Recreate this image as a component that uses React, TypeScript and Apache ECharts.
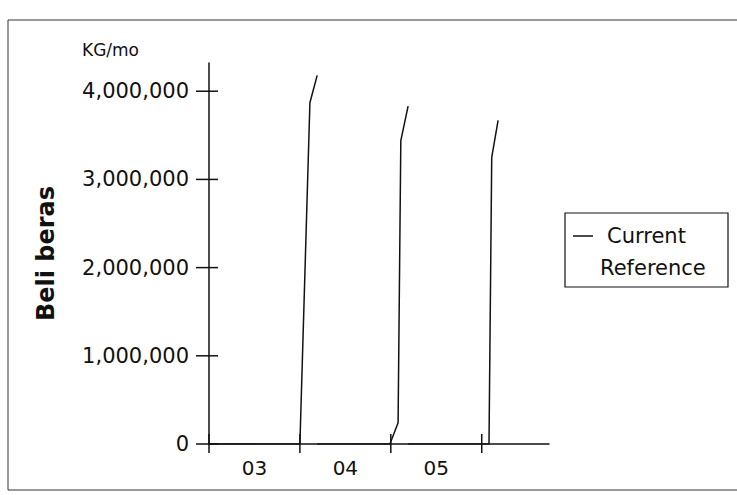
import React, { useEffect, useRef } from "react";
import * as echarts from "echarts";

// x in years after start (tick 1 = boundary 03/04, 2 = 04/05, 3 = 05/06)
const xTickValues = [0, 1, 2, 3];
const xLabelValues = [0.5, 1.5, 2.5];
const xTickLabels = ["03", "04", "05"];
const yTickValues = [0, 1000000, 2000000, 3000000, 4000000];

const spikeX = [
  [1.0, 1.11, 1.19],
  [1.99, 2.08, 2.11, 2.19],
  [3.08, 3.11, 3.18],
];
const spikeY = [
  [0, 3870000, 4180000],
  [0, 240000, 3440000, 3830000],
  [0, 3250000, 3670000],
];
const baseStartX = [0, 1.19, 2.19];

const FONT = "DejaVu Sans";

export default function App() {
  const ref = useRef<HTMLDivElement>(null);
  useEffect(() => {
    if (!ref.current) return;
    const chart = echarts.init(ref.current, null, { renderer: "svg" });
    const data: any[] = [];
    spikeX.forEach((xs, i) => {
      if (i > 0) data.push([baseStartX[i], "-"]);
      data.push([baseStartX[i], 0]);
      xs.forEach((x, j) => data.push([x, spikeY[i][j]]));
    });
    const tickData: any[] = [
      ...xTickValues.map((v) => [v, 0, 0]),
      ...yTickValues.map((v) => [0, v, 1]),
    ];
    const black = "#111";
    chart.setOption({
      animation: false,
      backgroundColor: "#fff",
      grid: { left: 209, right: 188, top: 63, bottom: 51 },
      xAxis: {
        type: "value",
        min: 0,
        max: 3.74,
        axisLine: { show: true, lineStyle: { color: black, width: 1.5 } },
        axisTick: { show: false },
        axisLabel: {
          customValues: xLabelValues,
          formatter: (v: number) => {
            const i = xLabelValues.indexOf(v);
            return i >= 0 ? xTickLabels[i] : "";
          },
          margin: 14,
          fontSize: 20,
          fontFamily: FONT,
          color: black,
        },
        splitLine: { show: false },
      },
      yAxis: {
        type: "value",
        min: 0,
        max: 4320000,
        name: "Beli beras",
        nameLocation: "middle",
        nameRotate: 90,
        nameGap: 151,
        nameTextStyle: { fontSize: 24, fontWeight: "bold", fontFamily: FONT, color: black },
        axisLine: { show: true, lineStyle: { color: black, width: 1.5 } },
        axisTick: { show: false },
        axisLabel: {
          customValues: yTickValues,
          formatter: (v: number) => v.toLocaleString("en-US"),
          margin: 20,
          fontSize: 21,
          fontFamily: FONT,
          color: black,
        },
        splitLine: { show: false },
      },
      series: [
        {
          name: "Current",
          type: "line",
          data,
          showSymbol: false,
          symbol: "none",
          connectNulls: false,
          lineStyle: { color: black, width: 1.5 },
        },
        {
          name: "ticks",
          type: "custom",
          clip: false,
          silent: true,
          data: tickData,
          renderItem: (_p: any, api: any) => {
            const pt = api.coord([api.value(0), api.value(1)]);
            const kind = api.value(2);
            const shape =
              kind === 0
                ? { x1: pt[0], y1: pt[1] - 10, x2: pt[0], y2: pt[1] + 9 }
                : { x1: pt[0] - 13, y1: pt[1], x2: pt[0] + 9, y2: pt[1] };
            return {
              type: "line",
              shape,
              style: { stroke: black, lineWidth: 1.5 },
            };
          },
        },
      ],
      graphic: [
        {
          type: "rect",
          shape: { x: 8, y: 20, width: 740, height: 470 },
          style: { fill: "none", stroke: "#333", lineWidth: 1 },
          silent: true,
        },
        {
          type: "text",
          x: 82,
          y: 50,
          style: {
            text: "KG/mo",
            fontSize: 17,
            fontFamily: FONT,
            fill: black,
            verticalAlign: "middle",
          },
        },
        {
          type: "rect",
          shape: { x: 565, y: 213, width: 163, height: 74 },
          style: { fill: "#fff", stroke: black, lineWidth: 1.2 },
        },
        {
          type: "line",
          shape: { x1: 573, y1: 236, x2: 593, y2: 236 },
          style: { stroke: black, lineWidth: 1.5 },
        },
        {
          type: "text",
          x: 607,
          y: 236,
          style: {
            text: "Current",
            fontSize: 21,
            fontFamily: FONT,
            fill: black,
            verticalAlign: "middle",
          },
        },
        {
          type: "text",
          x: 600,
          y: 268,
          style: {
            text: "Reference",
            fontSize: 21,
            fontFamily: FONT,
            fill: black,
            verticalAlign: "middle",
          },
        },
      ],
    });
    return () => chart.dispose();
  }, []);
  return (
    <div
      ref={ref}
      style={{ position: "fixed", left: 0, top: 0, width: 737, height: 495 }}
    />
  );
}
